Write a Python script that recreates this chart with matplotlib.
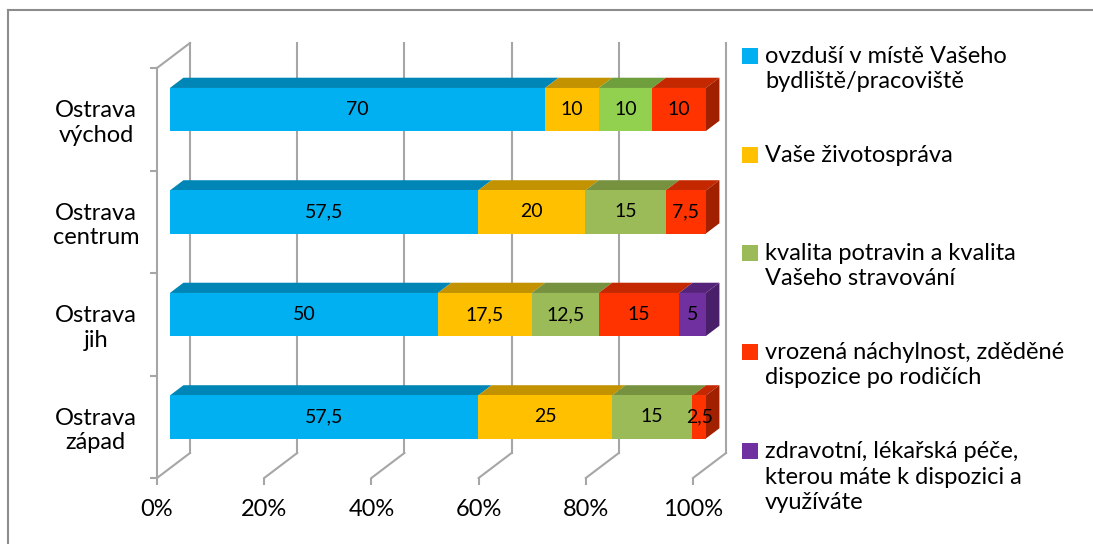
import numpy as np
import matplotlib.pyplot as plt
from matplotlib.patches import Polygon, Rectangle
from matplotlib.lines import Line2D

plt.rcParams['font.family'] = ['Lato', 'DejaVu Sans']

# categories bottom -> top
regions = ['Ostrava\nzápad', 'Ostrava\njih', 'Ostrava\ncentrum', 'Ostrava\nvýchod']

ovzdusi = [57.5, 50, 57.5, 70]
zivotosprava = [25, 17.5, 20, 10]
potraviny = [15, 12.5, 15, 10]
vrozena = [2.5, 15, 7.5, 10]
zdravotni = [0, 5, 0, 0]

legend_names = ['ovzduší v místě Vašeho\nbydliště/pracoviště',
                'Vaše životospráva',
                'kvalita potravin a kvalita\nVašeho stravování',
                'vrozená náchylnost, zděděné\ndispozice po rodičích',
                'zdravotní, lékařská péče,\nkterou máte k dispozici a\nvyužíváte']

series = [ovzdusi, zivotosprava, potraviny, vrozena, zdravotni]
# front, top, side colours
colors = [('#00B0F0', '#0086B6', '#006E96'),
          ('#FFC000', '#C29200', '#A07800'),
          ('#9BBB59', '#76923F', '#5F7733'),
          ('#FF3300', '#C42800', '#A02000'),
          ('#7030A0', '#55247A', '#4A1F6A')]
green_top_bar = ('#92D050', '#6F9E3D', '#5A8232')

W, H = 1093, 544
fig = plt.figure(figsize=(W / 100, H / 100), dpi=100)

# outer frame (cropped on right and bottom)
fig.add_artist(Line2D([8 / W, 8 / W], [0, 1 - 10 / H], color='#8C8C8C', lw=1.5))
fig.add_artist(Line2D([8 / W, 1], [1 - 10 / H, 1 - 10 / H], color='#8C8C8C', lw=1.5))

ax = fig.add_axes([157 / W, (H - 478) / H, 536 / W, 410 / H])
ax.set_xlim(0, 100)
ax.set_ylim(-0.5, 3.5)
ax.patch.set_alpha(0)

# fake depth
DX = 6.16
DY = 0.244


def P(x, y, d):
    return (x + d * DX, y + d * DY)


grid_c = '#A6A6A6'
ticks = np.arange(0, 101, 20)
for t in ticks:
    # back wall gridline
    ax.plot([t + DX, t + DX], [-0.5 + DY, 3.5 + DY], color=grid_c, lw=1.5, clip_on=False, zorder=1)
    # floor line
    ax.plot([t, t + DX], [-0.5, -0.5 + DY], color=grid_c, lw=1.5, clip_on=False, zorder=1)
# left wall top edge
ax.plot([0, DX], [3.5, 3.5 + DY], color=grid_c, lw=1.5, clip_on=False, zorder=1)

h = 0.42
d0, d1 = 0.39, 0.80
for i in range(len(regions)):
    left = 0
    vals = [s[i] for s in series]
    last = max(k for k, v in enumerate(vals) if v > 0)
    for k, v in enumerate(vals):
        if v <= 0:
            continue
        fc, tc, sc = colors[k]
        if k == 2 and i == 3:
            fc, tc, sc = green_top_bar
        right = left + v
        front = [P(left, i - h / 2, d0), P(right, i - h / 2, d0),
                 P(right, i + h / 2, d0), P(left, i + h / 2, d0)]
        top = [P(left, i + h / 2, d0), P(right, i + h / 2, d0),
               P(right, i + h / 2, d1), P(left, i + h / 2, d1)]
        ax.add_patch(Polygon(top, closed=True, facecolor=tc, edgecolor='none', zorder=3, clip_on=False))
        ax.add_patch(Polygon(front, closed=True, facecolor=fc, edgecolor='none', zorder=4, clip_on=False))
        if k == last:
            side = [P(right, i - h / 2, d0), P(right, i + h / 2, d0),
                    P(right, i + h / 2, d1), P(right, i - h / 2, d1)]
            ax.add_patch(Polygon(side, closed=True, facecolor=sc, edgecolor='none', zorder=3, clip_on=False))
        lx, ly = P(left + v / 2, i, d0)
        ax.text(lx, ly, f'{v:g}'.replace('.', ','), ha='center', va='center',
                fontsize=14, color='black', zorder=6)
        left = right

for name in ['top', 'right', 'bottom']:
    ax.spines[name].set_visible(False)
ax.spines['left'].set_color(grid_c)
ax.spines['left'].set_linewidth(1.5)

ax.set_xticks(ticks)
ax.set_xticklabels([f'{t}%' for t in ticks])
ax.tick_params(axis='x', colors=grid_c, labelcolor='black', length=5, width=1.5,
               labelsize=17, pad=10)
ax.set_yticks(range(len(regions)))
ax.set_yticklabels(regions, ha='center', fontsize=17)
ax.tick_params(axis='y', length=0, pad=44)
ax.set_yticks(np.arange(-0.5, 3.6, 1), minor=True)
ax.tick_params(axis='y', which='minor', colors=grid_c, length=5, width=1.5)

# legend, placed by hand
leg_y = [69, 155, 266, 365, 477]
for k, name in enumerate(legend_names):
    y = 1 - leg_y[k] / H
    first_line = 1 - (leg_y[k] - 13 * name.count('\n')) / H
    fig.add_artist(Rectangle((742 / W, first_line - 8 / H), 16 / W, 16 / H,
                             transform=fig.transFigure, facecolor=colors[k][0], edgecolor='none'))
    fig.text(765 / W, y, name, ha='left', va='center', fontsize=17, linespacing=1.25)

fig.savefig('out.png', dpi=100)
